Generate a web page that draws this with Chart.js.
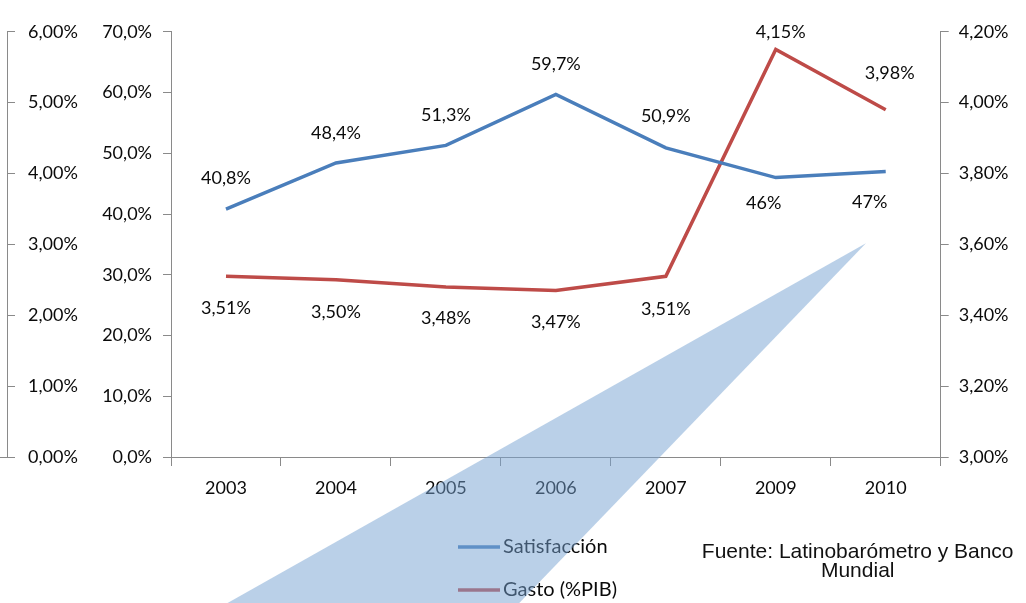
<!DOCTYPE html>
<html><head><meta charset="utf-8">
<script src="https://cdn.jsdelivr.net/npm/chart.js@4"></script>
<style>html,body{margin:0;padding:0;background:#fff;overflow:hidden}#wrap{width:1026px;height:603px}</style>
</head><body><div id="wrap"><canvas id="c" width="1026" height="603"></canvas></div>
<script>
// ---- data ----
const years = ['2003', '2004', '2005', '2006', '2007', '2009', '2010'];
const satisfaccion = [40.8, 48.4, 51.3, 59.7, 50.9, 46, 47];
const gasto = [3.51, 3.50, 3.48, 3.47, 3.51, 4.15, 3.98];
const satisfaccionLabels = ['40,8%', '48,4%', '51,3%', '59,7%', '50,9%', '46%', '47%'];
const gastoLabels = ['3,51%', '3,50%', '3,48%', '3,47%', '3,51%', '4,15%', '3,98%'];
const leftTicks = [0, 10, 20, 30, 40, 50, 60, 70];
const rightTicks = [3.0, 3.2, 3.4, 3.6, 3.8, 4.0, 4.2];
const farTicks = [0, 1, 2, 3, 4, 5, 6];
const seriesNames = ['Satisfacción', 'Gasto (%PIB)'];
const sourceLines = ['Fuente: Latinobarómetro y Banco', 'Mundial'];

// ---- placement / style ----
const satOffsets = [[0,-31],[0,-30],[0,-30],[0,-30],[0,-32],[-12,26],[-16,31]];
const gasOffsets = [[0,32],[0,32],[0,31],[0,32],[0,33],[5,-17],[4,-37]];
const BLUE = '#4a7ebb', RED = '#be4b48', AXIS = '#8a8a8a', TXT = '#0a0a0a';
const fmt = (d) => (v) => v.toFixed(d).replace('.', ',') + '%';
const setTicks = (arr) => (s) => { s.ticks = arr.map(v => ({ value: v })); };

Chart.defaults.font.family = 'Lato';
Chart.defaults.font.size = 18;
Chart.defaults.color = TXT;

const overlay = {
  id: 'overlay',
  afterDraw(chart) {
    const ctx = chart.ctx, ca = chart.chartArea;
    ctx.save();
    // data labels
    ctx.font = '18px Lato';
    ctx.fillStyle = TXT;
    ctx.textAlign = 'center';
    ctx.textBaseline = 'middle';
    chart.data.datasets.forEach((ds, di) => {
      const meta = chart.getDatasetMeta(di);
      meta.data.forEach((pt, i) => {
        const o = ds.labelOffsets[i];
        ctx.fillText(ds.valueLabels[i], pt.x + o[0], pt.y + o[1]);
      });
    });
    // legend (vertical)
    ctx.font = '20px Lato';
    ctx.textAlign = 'left';
    chart.data.datasets.forEach((ds, di) => {
      const y = ca.bottom + 90 + di * 43;
      const x0 = ca.left + 287;
      ctx.strokeStyle = ds.borderColor;
      ctx.lineWidth = 3.5;
      ctx.beginPath(); ctx.moveTo(x0, y); ctx.lineTo(x0 + 42, y); ctx.stroke();
      ctx.fillStyle = TXT;
      ctx.fillText(ds.label, x0 + 45, y);
    });
    // source note
    ctx.font = '21px "Liberation Sans", Arial, sans-serif';
    ctx.textAlign = 'center';
    ctx.textBaseline = 'alphabetic';
    ctx.fillStyle = '#111';
    sourceLines.forEach((t, i) => ctx.fillText(t, ca.right - 83, ca.bottom + 101 + i * 19));
    // stub of the cut-off chart's base line
    const far = chart.scales.yFar;
    ctx.strokeStyle = AXIS; ctx.lineWidth = 1;
    ctx.beginPath(); ctx.moveTo(0, Math.round(ca.bottom) + 0.5); ctx.lineTo(far.right, Math.round(ca.bottom) + 0.5); ctx.stroke();
    // callout wedge
    const xs = chart.scales.x, ys = chart.scales.y;
    ctx.fillStyle = 'rgba(118,162,210,0.5)';
    ctx.beginPath();
    ctx.moveTo(xs.getPixelForValue(5.82), ys.getPixelForValue(35.2));
    ctx.lineTo(xs.getPixelForValue(-0.57), ys.getPixelForValue(-30));
    ctx.lineTo(xs.getPixelForValue(2.35), ys.getPixelForValue(-30));
    ctx.closePath();
    ctx.fill();
    ctx.restore();
  }
};

new Chart(document.getElementById('c'), {
  type: 'line',
  data: {
    labels: years,
    datasets: [
      { label: seriesNames[0], data: satisfaccion, yAxisID: 'y', borderColor: BLUE, backgroundColor: BLUE,
        borderWidth: 3.5, pointRadius: 0, tension: 0, valueLabels: satisfaccionLabels, labelOffsets: satOffsets },
      { label: seriesNames[1], data: gasto, yAxisID: 'y1', borderColor: RED, backgroundColor: RED,
        borderWidth: 3.5, pointRadius: 0, tension: 0, valueLabels: gastoLabels, labelOffsets: gasOffsets }
    ]
  },
  options: {
    responsive: false,
    animation: false,
    layout: { padding: { left: 0, right: 0, top: 21, bottom: 106 } },
    plugins: { legend: { display: false }, tooltip: { enabled: false } },
    scales: {
      x: {
        type: 'category', offset: true,
        grid: { offset: true, drawOnChartArea: false, tickLength: 9, color: AXIS },
        border: { color: AXIS },
        ticks: { padding: 11, maxRotation: 0, autoSkip: false },
        afterFit: (s) => { s.height = 40; }
      },
      yFar: {
        type: 'linear', position: 'left', weight: 2, min: 0, max: 6,
        grid: { drawOnChartArea: false, tickLength: -8, color: AXIS },
        border: { color: AXIS },
        ticks: { mirror: true, padding: 21, callback: fmt(2) },
        afterBuildTicks: setTicks(farTicks),
        afterFit: (s) => { s.width = 7; }
      },
      y: {
        type: 'linear', position: 'left', weight: 1, min: 0, max: 70,
        grid: { drawOnChartArea: false, tickLength: 8, color: AXIS },
        border: { color: AXIS },
        ticks: { padding: 11, callback: fmt(1) },
        afterBuildTicks: setTicks(leftTicks),
        afterFit: (s) => { s.width = 164; }
      },
      y1: {
        type: 'linear', position: 'right', min: 3, max: 4.2,
        grid: { drawOnChartArea: false, tickLength: 8, color: AXIS },
        border: { color: AXIS },
        ticks: { padding: 10, callback: fmt(2) },
        afterBuildTicks: setTicks(rightTicks),
        afterFit: (s) => { s.width = 85.3; }
      }
    }
  },
  plugins: [overlay]
});
</script>
</body></html>
